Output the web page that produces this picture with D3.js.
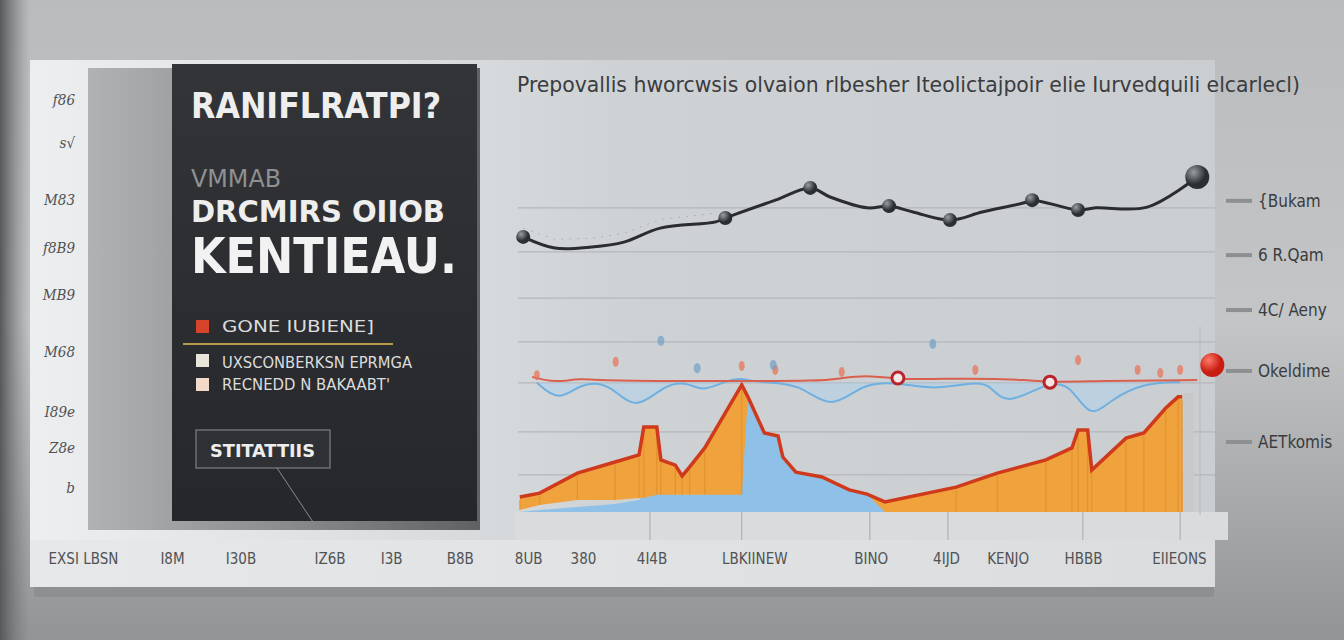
<!DOCTYPE html>
<html lang="en">
<head>
<meta charset="UTF-8">
<title>Chart</title>
<script src="https://cdn.jsdelivr.net/npm/d3@7"></script>
<style>
  body { margin: 0; background: #9c9ea0; }
  svg { display: block; }
</style>
</head>
<body>
<svg width="1344" height="640"></svg>
<script>
// ---- data ----
var titleText = "Prepovallis hworcwsis olvaion rlbesher Iteolictajpoir elie Iurvedquili elcarlecl)"

// top dark line
var topX = [1.2, 5.8, 11.2, 15.9, 21.2, 29.3, 30.7, 38, 43.1, 46, 51.4, 54.6, 58.1, 63.5, 68.2, 74.2, 75.5, 82.2, 84.8, 92.3, 99.6]
var topY = [78.6, 75.4, 75.7, 77.1, 81.1, 82.9, 84, 89.1, 92.6, 90, 86.9, 87.4, 85.7, 83.4, 85.7, 88.3, 89.1, 86.3, 86.9, 87.1, 95.7]
var topMark = [1, 0, 0, 0, 0, 0, 1, 0, 1, 0, 0, 1, 0, 1, 0, 0, 1, 1, 0, 0, 2]

// red flat line
var redX = [2.5, 5.8, 9.5, 13, 30, 45, 47.5, 52, 56, 67, 75, 78, 85, 99.6]
var redY = [38.6, 36.9, 38.3, 37.4, 37.4, 37.4, 38.3, 39.1, 37.7, 38.3, 37.7, 37.1, 37.4, 37.7]

// blue dipping line
var blueX = [3.2, 6.4, 9.6, 13.9, 17.5, 22, 25.5, 27.3, 31.2, 32.8, 35.8, 41.6, 46.1, 50.8, 56.2, 61.2, 66.4, 69.3, 71.5, 77.5, 81, 83.9, 86.9, 91.8, 97.1]
var blueY = [36.9, 31.4, 36.9, 36.9, 28.3, 36.9, 36.9, 34.3, 37.7, 38.3, 36.9, 36.9, 28.6, 37.1, 36.9, 34.9, 36.9, 36.9, 30, 36.9, 36.9, 26.3, 32, 36.9, 37.1]

// lower stacked areas
var areaX = [0.7, 3.6, 9.1, 14.6, 18.1, 18.8, 20.7, 21.3, 23.4, 24.4, 25.5, 27.7, 33.1, 34, 36.4, 38.4, 39.1, 41, 44.8, 48.8, 51.4, 54, 64.4, 70.4, 77.5, 81.3, 82.2, 83.6, 84.2, 89.2, 91.8, 95, 96.8, 97.4, 97.5]
var edgeY = [4.3, 5.4, 11.1, 14.3, 16.3, 24.3, 24.3, 14.9, 13.4, 10.3, 12.9, 18.3, 36.3, 32.9, 22.6, 21.7, 15.7, 11.4, 10, 6.3, 5.1, 2.9, 7.1, 11.1, 14.9, 18.3, 23.4, 23.4, 12, 21.1, 22.6, 29.7, 32.9, 32.9, 0]
var orangeLow = [0.6, 2, 3.4, 3.4, 4, 4, 4.9, 4.9, 4.9, 4.9, 4.9, 4.9, 4.9, 32.9, 22.6, 21.7, 15.7, 11.4, 10, 6.3, 5.1, 0, 0, 0, 0, 0, 0, 0, 0, 0, 0, 0, 0, 0, 0]
var blueTop = [0, 0.6, 1.4, 2.3, 3.4, 4.9, 6.3, 5.7, 4.9, 4.9, 4.9, 4.9, 36.3, 32.9, 22.6, 21.7, 15.7, 11.4, 10, 6.3, 5.1, 2, 0, 0, 0, 0, 0, 0, 0, 0, 0, 0, 0, 0, 0]

// small blips around the red line
var blipX = [3.2, 14.7, 33.1, 38, 47.7, 67.2, 82.2, 90.9, 94.2, 97.1]
var blipY = [39.1, 42.9, 41.7, 40.6, 40, 40.6, 43.4, 40.6, 39.7, 40.6]
var blueBlipX = [21.3, 61, 26.6, 37.7]
var blueBlipY = [48.9, 48, 41.1, 42]
var ringX = [55.9, 78.1]
var ringY = [38.3, 37.1]
var bigRed = [101.8, 42]

// grid, axes
var gridVals = [86.9, 74.3, 61.1, 48.6, 36.9, 22.9, 10.6]
var rightTicks = [88.9, 73.4, 57.7, 40.3, 20]
var rightLabels = ["{Bukam", "6 R.Qam", "4C/ Aeny", "Okeldime", "AETkomis"]
var leftTicks = [117.7, 105.4, 89.1, 75.4, 62, 45.7, 28.6, 18.3, 6.9]
var leftLabels = ["f86", "s\u221A", "M83", "f8B9", "MB9", "M68", "I89e", "Z8e", "b"]
var bottomTicks = [-63, -50, -40, -27, -18, -8, 2, 10, 20, 35, 52, 63, 72, 83, 97]
var bottomLabels = ["EXSI LBSN", "I8M", "I30B", "IZ6B", "I3B", "B8B", "8UB", "380", "4I4B", "LBKIINEW", "BINO", "4IJD", "KENJO", "HBBB", "EIIEONS"]
var dropTicks = [19.7, 33.1, 51.8, 63.2, 82.9, 97.1]

var legendItems = ["GONE IUBIENE]", "UXSCONBERKSN EPRMGA", "RECNEDD N BAKAABT'"]
var legendColors = ["#d8432c", "#e8e4da", "#f2d9c8"]

// ---- setup ----
var svg = d3.select("svg")
var defs = svg.append("defs")

var x = d3.scaleLinear().domain([0, 100]).range([515, 1200])
var y = d3.scaleLinear().domain([0, 100]).range([512, 162])

function lin(id, stops, x2, y2) {
    var g = defs.append("linearGradient").attr("id", id)
        .attr("x1", 0).attr("y1", 0).attr("x2", x2).attr("y2", y2)
    stops.forEach(function (s) { g.append("stop").attr("offset", s[0]).attr("stop-color", s[1]) })
}
lin("bg", [[0, "#b9bbbd"], [0.5, "#c3c5c7"], [1, "#929496"]], 0, 1)
lin("leftdark", [[0, "#56585a"], [1, "rgba(120,122,124,0)"]], 1, 0)
lin("card", [[0, "#eceeef"], [0.35, "#d9dcde"], [0.5, "#cfd2d5"], [1, "#cbced1"]], 1, 0)
lin("shadowpanel", [[0, "#b0b2b4"], [0.5, "#8a8c8e"], [1, "#5f6163"]], 1, 0)
lin("darkpanel", [[0, "#323438"], [1, "#25272a"]], 0, 1)
lin("bottomband", [[0, "#e6e8e9"], [1, "#dadcde"]], 1, 0)
var rg = defs.append("radialGradient").attr("id", "ball").attr("cx", "35%").attr("cy", "30%")
rg.append("stop").attr("offset", 0).attr("stop-color", "#9a9ea2")
rg.append("stop").attr("offset", 1).attr("stop-color", "#2c2f32")
var rr = defs.append("radialGradient").attr("id", "redball").attr("cx", "35%").attr("cy", "30%")
rr.append("stop").attr("offset", 0).attr("stop-color", "#ff7a6a")
rr.append("stop").attr("offset", 1).attr("stop-color", "#c81e12")

// ---- background + card ----
svg.append("rect").attr("width", 1344).attr("height", 640).attr("fill", "url(#bg)")
svg.append("rect").attr("width", 30).attr("height", 640).attr("fill", "url(#leftdark)")
svg.append("rect").attr("x", 34).attr("y", 587).attr("width", 1180).attr("height", 10)
    .attr("fill", "#7e8082").attr("opacity", 0.45)
svg.append("rect").attr("x", 30).attr("y", 60).attr("width", 1185).attr("height", 527).attr("fill", "url(#card)")
svg.append("rect").attr("x", 30).attr("y", 540).attr("width", 1185).attr("height", 47).attr("fill", "url(#bottomband)")
// light strip under the chart
svg.append("rect").attr("x", 515).attr("y", 512).attr("width", 713).attr("height", 28).attr("fill", "#d9dbdd")

// gray shadow panel and dark panel
svg.append("rect").attr("x", 88).attr("y", 68).attr("width", 392).attr("height", 462).attr("fill", "url(#shadowpanel)")
svg.append("rect").attr("x", 172).attr("y", 64).attr("width", 305).attr("height", 457).attr("fill", "url(#darkpanel)")

// ---- title ----
svg.append("text").attr("x", 517).attr("y", 92).attr("textLength", 783).attr("lengthAdjust", "spacingAndGlyphs")
    .attr("font-family", "DejaVu Sans Condensed").attr("font-size", 22).attr("fill", "#3a3c3e")
    .text(titleText)

// ---- grid ----
var grid = svg.append("g")
grid.selectAll("line").data(gridVals).enter().append("line")
    .attr("x1", 518).attr("x2", 1215).attr("y1", d => y(d)).attr("y2", d => y(d))
    .attr("stroke", "#b4b7ba").attr("stroke-width", 1.2)
svg.append("line").attr("x1", 1200).attr("x2", 1200).attr("y1", y(53)).attr("y2", 515)
    .attr("stroke", "#b4b7ba")
svg.selectAll(".drop").data(dropTicks).enter().append("line")
    .attr("x1", d => x(d)).attr("x2", d => x(d)).attr("y1", 512).attr("y2", 540)
    .attr("stroke", "#a8abae")

// ---- lower areas ----
var pts = areaX.map((v, i) => ({ x: v, e: edgeY[i], lo: orangeLow[i], b: blueTop[i] }))
svg.append("path").datum(pts)
    .attr("d", d3.area().x(d => x(d.x)).y0(y(0)).y1(d => y(d.b)))
    .attr("fill", "#8fc1e8")
svg.append("path").datum(pts)
    .attr("d", d3.area().x(d => x(d.x)).y0(d => y(d.lo)).y1(d => y(d.e)))
    .attr("fill", "#f0a23c")
// vertical stripes in the orange
svg.selectAll(".stripe").data(pts.filter(d => d.e - d.lo > 3)).enter().append("line")
    .attr("x1", d => x(d.x)).attr("x2", d => x(d.x)).attr("y1", d => y(d.lo)).attr("y2", d => y(d.e) + 3)
    .attr("stroke", "#d98a2a").attr("stroke-width", 1.2).attr("opacity", 0.6)
svg.append("path").datum(pts.slice(0, pts.length - 1))
    .attr("d", d3.line().x(d => x(d.x)).y(d => y(d.e)))
    .attr("fill", "none").attr("stroke", "#cf3a1c").attr("stroke-width", 3.5)
// end post
svg.append("rect").attr("x", x(97.6)).attr("y", y(34)).attr("width", 10).attr("height", y(0) - y(34))
    .attr("fill", "#c6c8ca")

// ---- blue dipping line with pale fill ----
var bpts = blueX.map((v, i) => ({ x: v, y: blueY[i] }))
svg.append("path").datum(bpts)
    .attr("d", d3.area().curve(d3.curveBasis).x(d => x(d.x)).y0(y(37)).y1(d => y(d.y)))
    .attr("fill", "#a9d0ef").attr("opacity", 0.45)
svg.append("path").datum(bpts)
    .attr("d", d3.line().curve(d3.curveBasis).x(d => x(d.x)).y(d => y(d.y)))
    .attr("fill", "none").attr("stroke", "#6fb0e0").attr("stroke-width", 2)

// ---- red line ----
var rpts = redX.map((v, i) => ({ x: v, y: redY[i] }))
svg.append("path").datum(rpts)
    .attr("d", d3.line().curve(d3.curveBasis).x(d => x(d.x)).y(d => y(d.y)))
    .attr("fill", "none").attr("stroke", "#d9604e").attr("stroke-width", 2)

svg.selectAll(".blip").data(blipX).enter().append("ellipse")
    .attr("cx", d => x(d)).attr("cy", (d, i) => y(blipY[i]))
    .attr("rx", 3).attr("ry", 5).attr("fill", "#e8755a").attr("opacity", 0.75)
svg.selectAll(".bblip").data(blueBlipX).enter().append("ellipse")
    .attr("cx", d => x(d)).attr("cy", (d, i) => y(blueBlipY[i]))
    .attr("rx", 3.5).attr("ry", 5).attr("fill", "#6f9fc8").attr("opacity", 0.7)
svg.selectAll(".ring").data(ringX).enter().append("circle")
    .attr("cx", d => x(d)).attr("cy", (d, i) => y(ringY[i])).attr("r", 6)
    .attr("fill", "#f4e6e4").attr("stroke", "#b8242a").attr("stroke-width", 3)
svg.append("circle").attr("cx", x(bigRed[0])).attr("cy", y(bigRed[1])).attr("r", 12).attr("fill", "url(#redball)")

// ---- top dark line ----
var tpts = topX.map((v, i) => ({ x: v, y: topY[i], m: topMark[i] }))
svg.append("path").datum(tpts.slice(0, 6))
    .attr("d", d3.line().x(d => x(d.x)).y(d => y(d.y + 2.5)))
    .attr("fill", "none").attr("stroke", "#9a9ca0").attr("stroke-dasharray", "2,6").attr("opacity", 0.6)
svg.append("path").datum(tpts)
    .attr("d", d3.line().curve(d3.curveCatmullRom.alpha(0.5)).x(d => x(d.x)).y(d => y(d.y)))
    .attr("fill", "none").attr("stroke", "#2a2c2f").attr("stroke-width", 3)
svg.selectAll(".dot").data(tpts.filter(d => d.m > 0)).enter().append("circle")
    .attr("cx", d => x(d.x)).attr("cy", d => y(d.y)).attr("r", d => d.m === 2 ? 12 : 7)
    .attr("fill", "url(#ball)")

// ---- right axis ----
var ra = svg.append("g")
ra.selectAll("line").data(rightTicks).enter().append("line")
    .attr("x1", 1226).attr("x2", 1252).attr("y1", d => y(d)).attr("y2", d => y(d))
    .attr("stroke", "#8d9093").attr("stroke-width", 4)
ra.selectAll("text").data(rightTicks).enter().append("text")
    .attr("x", 1258).attr("y", d => y(d) + 6)
    .attr("font-family", "DejaVu Sans Condensed").attr("font-size", 17).attr("fill", "#3a3c3e")
    .text((d, i) => rightLabels[i])

// ---- left axis ----
svg.append("g").selectAll("text").data(leftTicks).enter().append("text")
    .attr("x", 75).attr("y", d => y(d) + 5).attr("text-anchor", "end")
    .attr("font-family", "DejaVu Serif Condensed").attr("font-style", "italic")
    .attr("font-size", 15).attr("fill", "#505254")
    .text((d, i) => leftLabels[i])

// ---- bottom axis ----
svg.append("g").selectAll("text").data(bottomTicks).enter().append("text")
    .attr("x", d => x(d)).attr("y", 564).attr("text-anchor", "middle")
    .attr("font-family", "DejaVu Sans Condensed").attr("font-size", 15).attr("fill", "#505254")
    .text((d, i) => bottomLabels[i])

// ---- dark panel text ----
function ptext(t, px, py, size, len, fill, bold) {
    svg.append("text").attr("x", px).attr("y", py).attr("textLength", len).attr("lengthAdjust", "spacingAndGlyphs")
        .attr("font-family", "DejaVu Sans Condensed").attr("font-weight", bold ? "bold" : "normal")
        .attr("font-size", size).attr("fill", fill).text(t)
}
ptext("RANIFLRATPI?", 191, 118, 36, 250, "#eeeeee", true)
ptext("VMMAB", 191, 187, 25, 90, "#8e9092", false)
ptext("DRCMIRS OIIOB", 191, 222, 30, 254, "#eeeeee", true)
ptext("KENTIEAU.", 191, 273, 50, 266, "#f2f2f2", true)

var lg = svg.append("g")
lg.selectAll("rect").data(legendItems).enter().append("rect")
    .attr("x", 196).attr("y", (d, i) => [320, 354, 378][i]).attr("width", 13).attr("height", 13)
    .attr("fill", (d, i) => legendColors[i])
lg.selectAll("text").data(legendItems).enter().append("text")
    .attr("x", 222).attr("y", (d, i) => [332, 368, 390][i])
    .attr("textLength", (d, i) => [152, 190, 168][i]).attr("lengthAdjust", "spacingAndGlyphs")
    .attr("font-family", "DejaVu Sans Condensed").attr("font-size", 16).attr("fill", "#dcdcdc")
    .text(d => d)
svg.append("line").attr("x1", 183).attr("x2", 393).attr("y1", 344).attr("y2", 344)
    .attr("stroke", "#b59b4c").attr("stroke-width", 2)

svg.append("rect").attr("x", 196).attr("y", 430).attr("width", 134).attr("height", 38)
    .attr("fill", "#2f3134").attr("stroke", "#6e7073").attr("stroke-width", 1.5)
ptext("STITATTIIS", 210, 457, 17, 105, "#eeeeee", true)
svg.append("line").attr("x1", 277).attr("y1", 468).attr("x2", 313).attr("y2", 522)
    .attr("stroke", "#8a8c8e").attr("stroke-width", 1)
</script>
</body>
</html>
